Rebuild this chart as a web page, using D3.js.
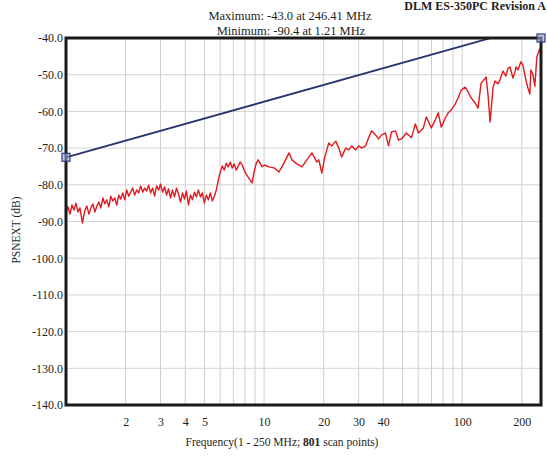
<!DOCTYPE html>
<html><head><meta charset="utf-8">
<script src="https://cdn.jsdelivr.net/npm/d3@7"></script>
<style>body{margin:0;background:#fff}svg{display:block}svg text{font-family:"Liberation Serif","DejaVu Serif",serif !important;fill:#1e1e1e}</style>
</head><body><svg id="c" width="547" height="459"></svg>
<script>
const headerText = "DLM ES-350PC Revision A";
const maxText = "Maximum: -43.0 at 246.41 MHz";
const minText = "Minimum: -90.4 at 1.21 MHz";
const yTitle = "PSNEXT (dB)";
const yTicks = [-40,-50,-60,-70,-80,-90,-100,-110,-120,-130,-140];
const xTickLabels = [2,3,4,5,10,20,30,40,100,200];
const xGrid = [2,3,4,5,6,7,8,9,10,20,30,40,50,60,70,80,90,100,200];
const limitFreq = [1, 140, 250];
const limitDb = [-72.5, -40, -40];
const markerFreq = [1, 250];
const markerDb = [-72.5, -40];
const freq = [1.000,1.023,1.047,1.072,1.097,1.123,1.149,1.176,1.21,1.246,1.275,1.305,1.335,1.367,1.399,1.432,1.465,1.499,1.535,1.570,1.607,1.645,1.684,1.723,1.763,1.804,1.847,1.890,1.934,1.980,2.026,2.073,2.122,2.172,2.222,2.274,2.327,2.382,2.438,2.495,2.553,2.613,2.674,2.737,2.801,2.867,2.934,3.002,3.073,3.145,3.218,3.294,3.371,3.449,3.530,3.613,3.697,3.784,3.873,3.963,4.056,4.151,4.248,4.348,4.449,4.554,4.660,4.769,4.881,4.995,5.112,5.232,5.354,5.480,5.608,5.739,5.873,6.011,6.151,6.295,6.442,6.593,6.747,6.905,7.066,7.232,7.401,7.574,7.751,7.933,8.118,8.308,8.502,8.701,8.905,9.113,9.329,9.548,9.770,10.0,10.60,11.23,11.90,12.60,13.36,13.82,14.65,15.52,16.45,17.43,18.47,18.90,19.56,20.26,21.21,21.96,23.00,23.82,24.66,25.83,26.74,27.69,29.00,30.02,31.08,32.55,33.70,34.89,36.54,37.83,39.17,41.02,42.47,43.97,46.06,47.69,49.37,52.31,55.42,58.05,60.10,63.68,65.93,69.85,73.15,75.74,78.42,82.14,85.04,88.05,92.22,95.48,98.85,103.5,107.2,111.0,116.2,120.3,124.6,129.0,132.0,135.1,138.3,141.5,143.2,146.5,151.7,155.2,160.7,166.4,170.3,174.3,180.5,184.7,186.8,191.2,197.9,202.6,209.7,214.6,219.6,222.2,227.4,232.7,238.2,246.41,250];
const psnext = [-87.4,-86.0,-88.0,-85.5,-86.9,-85.0,-87.4,-86.3,-90.4,-86.9,-85.8,-88.0,-86.3,-85.2,-87.4,-85.8,-84.7,-86.3,-83.6,-85.2,-84.1,-86.0,-83.1,-84.4,-83.6,-85.5,-82.8,-83.9,-82.2,-84.1,-81.4,-83.1,-82.0,-80.9,-82.8,-81.4,-82.2,-80.3,-82.0,-80.9,-81.7,-80.1,-82.2,-80.9,-83.1,-80.3,-81.4,-79.8,-82.0,-80.6,-82.8,-81.1,-83.6,-81.4,-83.3,-80.9,-82.5,-84.7,-82.2,-83.9,-81.7,-85.5,-82.8,-84.1,-82.0,-83.3,-81.4,-83.3,-82.2,-85.0,-82.8,-84.1,-82.2,-84.4,-83.1,-81.4,-78.7,-76.5,-74.9,-76.0,-74.1,-75.1,-73.8,-75.4,-74.3,-76.0,-74.9,-73.8,-74.6,-76.0,-77.1,-77.9,-78.7,-79.5,-76.5,-74.3,-73.2,-74.1,-75.1,-74.6,-75.1,-75.4,-76.5,-74.1,-71.3,-73.2,-74.3,-75.1,-73.2,-71.3,-73.8,-73.2,-76.8,-72.4,-68.6,-69.4,-68.1,-70.0,-72.4,-70.0,-70.5,-69.4,-70.5,-69.4,-70.0,-69.4,-67.2,-65.3,-66.4,-67.5,-66.4,-65.9,-69.4,-65.6,-65.3,-67.8,-67.5,-65.9,-67.2,-63.4,-65.9,-64.5,-61.5,-64.5,-62.3,-60.4,-64.3,-61.8,-60.4,-59.6,-58.0,-56.3,-54.2,-53.4,-54.7,-56.3,-57.7,-59.1,-52.3,-51.4,-50.6,-55.5,-62.9,-56.9,-53.4,-51.7,-52.5,-51.4,-49.0,-50.4,-48.2,-47.9,-50.9,-49.3,-47.9,-48.7,-46.5,-47.4,-51.4,-53.6,-55.3,-48.7,-49.8,-53.1,-45.2,-43.0,-44.0];

const svg = d3.select("#c");
const L=66, R=541, T=38, B=405;
const x = d3.scaleLog().domain([1,250]).range([L,R]);
const y = d3.scaleLinear().domain([-140,-40]).range([B,T]);

// header
svg.append("text").attr("x",546).attr("y",10).attr("text-anchor","end")
  .attr("font-size",12).attr("font-weight","bold").text(headerText);
svg.append("text").attr("x",290).attr("y",20).attr("text-anchor","middle").attr("font-size",12.5).text(maxText);
svg.append("text").attr("x",291).attr("y",35).attr("text-anchor","middle").attr("font-size",12.5).text(minText);

// grid
const g = svg.append("g");
g.selectAll("line.v").data(xGrid).join("line").attr("class","v")
  .attr("x1",d=>x(d)).attr("x2",d=>x(d)).attr("y1",T).attr("y2",B)
  .attr("stroke","#cfcfcf").attr("stroke-width",1);
g.selectAll("line.h").data(yTicks).join("line").attr("class","h")
  .attr("x1",L).attr("x2",R).attr("y1",d=>y(d)).attr("y2",d=>y(d))
  .attr("stroke","#d4d4d4").attr("stroke-width",1);

// axes labels via d3 axes
const yAxis = d3.axisLeft(y).tickValues(yTicks).tickFormat(d=>d.toFixed(1)).tickSize(0).tickPadding(3);
const ya = svg.append("g").attr("transform",`translate(${L},0)`).call(yAxis);
ya.attr("font-family",null);
ya.select(".domain").remove();
ya.selectAll("text").attr("font-size",12);

const xAxis = d3.axisBottom(x).tickValues(xTickLabels).tickFormat(d3.format("d")).tickSize(0).tickPadding(12);
const xa = svg.append("g").attr("transform",`translate(0,${B})`).call(xAxis);
xa.attr("font-family",null);
xa.select(".domain").remove();
xa.selectAll("text").attr("font-size",12);

// data line
const line = d3.line().x(d=>x(d[0])).y(d=>y(d[1]));
svg.append("path").datum(freq.map((f,i)=>[f,psnext[i]]))
  .attr("d",line).attr("fill","none").attr("stroke","#e01a1f").attr("stroke-width",1.4)
  .attr("stroke-linejoin","round");

// limit line
svg.append("path").datum(limitFreq.map((f,i)=>[f,limitDb[i]]))
  .attr("d",line).attr("fill","none").attr("stroke","#27336e").attr("stroke-width",1.8);

// frame
svg.append("rect").attr("x",L).attr("y",T).attr("width",R-L).attr("height",B-T)
  .attr("fill","none").attr("stroke","#1a1a1a").attr("stroke-width",3);

// markers
svg.selectAll("rect.m").data(markerFreq.map((f,i)=>[f,markerDb[i]])).join("rect").attr("class","m")
  .attr("x",d=>x(d[0])-4).attr("y",d=>y(d[1])-4).attr("width",8).attr("height",8)
  .attr("fill","#9aa6d6").attr("fill-opacity",0.6).attr("stroke","#2d3a80").attr("stroke-width",1.2);

// titles
svg.append("text").attr("transform","translate(20,230) rotate(-90)").attr("text-anchor","middle")
  .attr("font-size",11.5).text(yTitle);
const xt = svg.append("text").attr("x",282).attr("y",446).attr("text-anchor","middle").attr("font-size",11.5);
xt.append("tspan").text("Frequency(1 - 250 MHz; ");
xt.append("tspan").attr("font-weight","bold").text("801");
xt.append("tspan").text(" scan points)");
</script></body></html>
